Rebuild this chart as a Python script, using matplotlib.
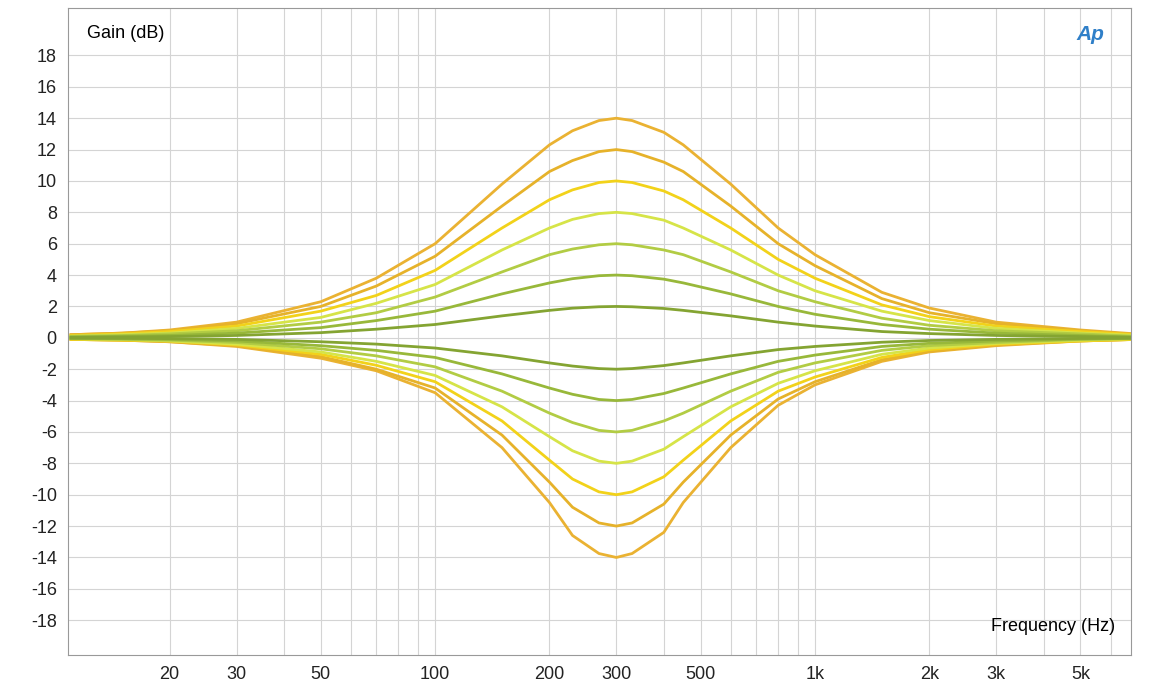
import numpy as np
import matplotlib.pyplot as plt
from matplotlib.ticker import FixedLocator, FixedFormatter, NullFormatter

plt.rcParams['font.family'] = ['Liberation Sans', 'DejaVu Sans']

freqs = [11, 15, 20, 30, 50, 70, 100, 150, 200, 230, 270, 300, 330, 400, 450, 600, 800,
         1000, 1500, 2000, 3000, 5000, 7000]

boost_14 = [0.2, 0.3, 0.5, 1.0, 2.3, 3.8, 6.0, 9.8, 12.3, 13.2, 13.85, 14.0, 13.85, 13.1, 12.3, 9.8, 7.0, 5.3, 2.9, 1.9, 1.0, 0.5, 0.25]
boost_12 = [0.2, 0.3, 0.45, 0.9, 2.0, 3.3, 5.2, 8.4, 10.6, 11.3, 11.87, 12.0, 11.87, 11.2, 10.6, 8.4, 6.0, 4.6, 2.5, 1.6, 0.9, 0.45, 0.2]
boost_10 = [0.15, 0.25, 0.4, 0.75, 1.7, 2.7, 4.3, 7.0, 8.8, 9.43, 9.9, 10.0, 9.9, 9.36, 8.8, 7.0, 5.0, 3.8, 2.1, 1.35, 0.75, 0.4, 0.2]
boost_8 = [0.1, 0.2, 0.3, 0.6, 1.3, 2.2, 3.4, 5.6, 7.0, 7.55, 7.92, 8.0, 7.92, 7.5, 7.0, 5.6, 4.0, 3.0, 1.7, 1.1, 0.6, 0.3, 0.15]
boost_6 = [0.1, 0.15, 0.25, 0.45, 1.0, 1.6, 2.6, 4.2, 5.3, 5.66, 5.93, 6.0, 5.93, 5.6, 5.3, 4.2, 3.0, 2.3, 1.25, 0.8, 0.45, 0.25, 0.1]
boost_4 = [0.05, 0.1, 0.15, 0.3, 0.65, 1.1, 1.7, 2.8, 3.5, 3.77, 3.96, 4.0, 3.96, 3.74, 3.5, 2.8, 2.0, 1.5, 0.85, 0.55, 0.3, 0.15, 0.05]
boost_2 = [0.03, 0.05, 0.08, 0.15, 0.33, 0.55, 0.85, 1.4, 1.75, 1.89, 1.98, 2.0, 1.98, 1.87, 1.75, 1.4, 1.0, 0.75, 0.4, 0.27, 0.15, 0.08, 0.03]
cut_14 = [-0.1, -0.15, -0.25, -0.55, -1.3, -2.1, -3.5, -7.0, -10.5, -12.6, -13.75, -14.0, -13.75, -12.4, -10.5, -7.0, -4.3, -3.0, -1.5, -0.9, -0.5, -0.2, -0.1]
cut_12 = [-0.1, -0.15, -0.25, -0.5, -1.2, -2.0, -3.2, -6.2, -9.2, -10.8, -11.8, -12.0, -11.8, -10.6, -9.2, -6.2, -3.9, -2.8, -1.4, -0.85, -0.45, -0.2, -0.1]
cut_10 = [-0.1, -0.15, -0.2, -0.45, -1.05, -1.75, -2.8, -5.3, -7.8, -9.0, -9.82, -10.0, -9.82, -8.86, -7.8, -5.3, -3.4, -2.5, -1.25, -0.75, -0.4, -0.2, -0.1]
cut_8 = [-0.05, -0.1, -0.2, -0.4, -0.9, -1.5, -2.4, -4.4, -6.3, -7.2, -7.86, -8.0, -7.86, -7.1, -6.3, -4.4, -2.9, -2.1, -1.05, -0.65, -0.35, -0.15, -0.05]
cut_6 = [-0.05, -0.1, -0.15, -0.3, -0.7, -1.15, -1.85, -3.4, -4.8, -5.4, -5.9, -6.0, -5.9, -5.3, -4.8, -3.4, -2.2, -1.6, -0.8, -0.5, -0.3, -0.1, -0.05]
cut_4 = [-0.03, -0.05, -0.1, -0.2, -0.5, -0.8, -1.25, -2.3, -3.2, -3.6, -3.93, -4.0, -3.93, -3.55, -3.2, -2.3, -1.5, -1.1, -0.55, -0.35, -0.2, -0.08, -0.03]
cut_2 = [-0.02, -0.03, -0.05, -0.1, -0.25, -0.4, -0.65, -1.15, -1.6, -1.8, -1.96, -2.0, -1.96, -1.77, -1.6, -1.15, -0.75, -0.55, -0.28, -0.17, -0.1, -0.04, -0.02]

curves = [boost_14, boost_12, boost_10, boost_8, boost_6, boost_4, boost_2,
          cut_14, cut_12, cut_10, cut_8, cut_6, cut_4, cut_2]
colors = ["#eab232", "#e6b22a", "#f2d21a", "#d6e448", "#b2cc44", "#98b83a", "#84a432"] * 2

xtick_vals = [20, 30, 50, 100, 200, 300, 500, 1000, 2000, 3000, 5000]
xtick_labels = ["20", "30", "50", "100", "200", "300", "500", "1k", "2k", "3k", "5k"]
ytick_vals = list(range(-18, 19, 2))

fig = plt.figure(figsize=(11.62, 6.98), dpi=100)
ax = fig.add_axes([0.0585, 0.062, 0.915, 0.926])

for vals, c in zip(curves, colors):
    ax.plot(freqs, vals, color=c, lw=2.0, solid_joinstyle="round")

ax.set_xscale("log")
ax.set_xlim(10.8, 6800)
ax.set_ylim(-20.2, 21)
ax.xaxis.set_major_locator(FixedLocator(xtick_vals))
ax.xaxis.set_major_formatter(FixedFormatter(xtick_labels))
ax.xaxis.set_minor_locator(FixedLocator([m * 10 ** e for e in range(1, 4) for m in range(1, 10)]))
ax.xaxis.set_minor_formatter(NullFormatter())
ax.set_yticks(ytick_vals)
ax.set_yticklabels([str(v) for v in ytick_vals])
ax.grid(True, which="both", color="#d4d4d4", lw=0.8)
ax.set_axisbelow(True)
ax.tick_params(which="both", length=0, labelsize=13, colors="#222222", pad=8)
for s in ax.spines.values():
    s.set_color("#999999")

ax.text(0.018, 0.975, "Gain (dB)", transform=ax.transAxes, fontsize=13, va="top", ha="left")
ax.text(0.985, 0.03, "Frequency (Hz)", transform=ax.transAxes, fontsize=13, va="bottom", ha="right")
ax.text(0.975, 0.975, "Ap", transform=ax.transAxes, fontsize=15, va="top", ha="right",
        color="#2f7fc8", style="italic", fontweight="bold")

fig.savefig("out.png", dpi=100, facecolor="white")
